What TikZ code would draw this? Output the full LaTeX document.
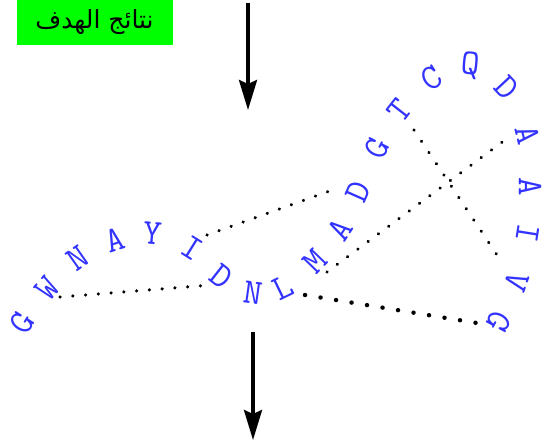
\documentclass[tikz,border=0pt]{standalone}
\usepackage{fontspec}
\newfontfamily\arabicfont[Script=Arabic]{DejaVu Sans}
\TeXXeTstate=1
\usetikzlibrary{arrows.meta}
\definecolor{letterblue}{RGB}{51,51,255}
\definecolor{boxgreen}{RGB}{0,255,0}
\begin{document}
\begin{tikzpicture}[x=1pt,y=-1pt,
  res/.style={font=\ttfamily\fontsize{36}{36}\selectfont, text=letterblue, inner sep=0pt},
  link/.style={draw=black, line width=3.4pt, line cap=round, dash pattern=on 0.1pt off 12.7pt},
  flow/.style={draw=black, line width=3.5pt, -{Stealth[width=18pt,length=30pt,inset=4pt]}}]
\useasboundingbox (0,0) rectangle (548,440);
% title box
\node[fill=boxgreen, draw=boxgreen, minimum width=155pt, minimum height=44pt, inner sep=0pt,
      font=\arabicfont\fontsize{25}{25}\selectfont] (title) at (94.5,22) {\beginR نتائج الهدف\endR};
% arrows
\coordinate (a1s) at (248,3);
\coordinate (a1e) at (248,110);
\coordinate (a2s) at (253,332);
\coordinate (a2e) at (253,440);
\draw[flow] (a1s) -- (a1e);
\draw[flow] (a2s) -- (a2e);
% residues
\node[res, rotate=58]  (r1)  at (22,323)  {G};
\node[res, rotate=49]  (r2)  at (47,288)  {W};
\node[res, rotate=35]  (r3)  at (78,258)  {N};
\node[res, rotate=18]  (r4)  at (115,240) {A};
\node[res, rotate=-5]  (r5)  at (153,233) {Y};
\node[res, rotate=-32] (r6)  at (192,248) {I};
\node[res, rotate=-38] (r7)  at (222,277) {D};
\node[res, rotate=-8]  (r8)  at (253,293) {N};
\node[res, rotate=26]  (r9)  at (283,288) {L};
\node[res, rotate=46]  (r10) at (315,261) {M};
\node[res, rotate=57]  (r11) at (340,230) {A};
\node[res, rotate=66]  (r12) at (358,192) {D};
\node[res, rotate=63]  (r13) at (377,148) {G};
\node[res, rotate=52]  (r14) at (400,110) {T};
\node[res, rotate=32]  (r15) at (432,78)  {C};
\node[res, rotate=-5]  (r16) at (470,66)  {Q};
\node[res, rotate=-47] (r17) at (507,88)  {D};
\node[res, rotate=-76] (r18) at (528,135) {A};
\node[res, rotate=-90] (r19) at (530,187) {A};
\node[res, rotate=-99] (r20) at (528,233) {I};
\node[res, rotate=-109] (r21) at (517,282) {V};
\node[res, rotate=-118] (r22) at (499,322) {G};
% link end points
\coordinate (l1a) at (60,297);
\coordinate (l1b) at (211,285);
\coordinate (l2a) at (207,235);
\coordinate (l2b) at (338,188);
\coordinate (l3a) at (327,272);
\coordinate (l3b) at (509,137);
\coordinate (l4a) at (414,130);
\coordinate (l4b) at (503,264);
\coordinate (l5a) at (305,295);
\coordinate (l5b) at (477,323);
\draw[link] (l1a) -- (l1b);
\draw[link] (l2a) -- (l2b);
\draw[link] (l3a) -- (l3b);
\draw[link, dash pattern=on 0.1pt off 13.4pt] (l4a) -- (l4b);
\draw[link, line width=4.4pt, dash pattern=on 0.1pt off 15.6pt] (l5a) -- (l5b);
\end{tikzpicture}
\end{document}
